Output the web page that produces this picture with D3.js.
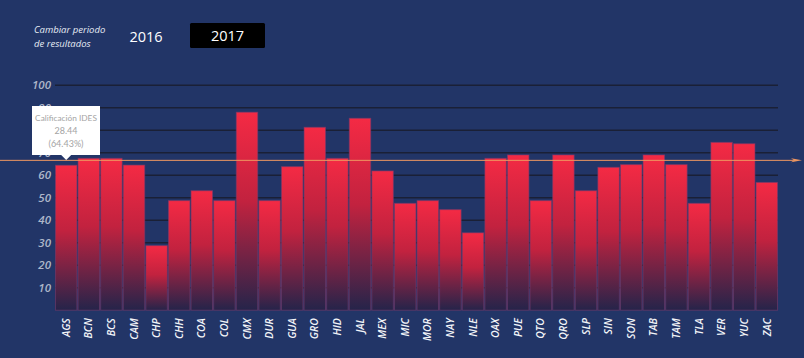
<!DOCTYPE html>
<html><head><meta charset="utf-8">
<script src="https://cdn.jsdelivr.net/npm/d3@7"></script>
<style>
html,body{margin:0;padding:0;background:#223567;}
svg{display:block;font-family:"Open Sans",sans-serif;}
</style></head>
<body>
<svg id="chart" width="804" height="358"></svg>
<script>
const categories = ["AGS","BCN","BCS","CAM","CHP","CHH","COA","COL","CMX","DUR","GUA","GRO","HID","JAL","MEX","MIC","MOR","NAY","NLE","OAX","PUE","QTO","QRO","SLP","SIN","SON","TAB","TAM","TLA","VER","YUC","ZAC"];
const values = [64.43,67.5,67.5,64.5,28.7,48.7,53.1,48.7,88.0,48.7,63.8,81.3,67.5,85.3,61.9,47.5,48.7,44.7,34.4,67.5,69.0,48.7,69.0,53.1,63.5,64.7,69.0,64.7,47.5,74.6,74.0,56.8];
const yTicks = [10,20,30,40,50,60,70,80,90,100];
const average = 66.6;
const years = ["2016","2017"];
const tooltip = {label:"Calificación IDES", score:"28.44", pct:"(64.43%)", index:0};

const svg = d3.select("#chart");
const margin = {left:55, right:26, top:85.2, bottom:48};
const W = 804, H = 358;
const x = d3.scaleBand().domain(categories).range([margin.left, W - margin.right]).paddingInner(0.05).paddingOuter(0.02);
const y = d3.scaleLinear().domain([0,100]).range([310.2, 85.2]);

const defs = svg.append("defs");
const g = defs.append("linearGradient").attr("id","barGrad").attr("x1",0).attr("y1",0).attr("x2",0).attr("y2",1);
g.append("stop").attr("offset","0%").attr("stop-color","#f42a44");
g.append("stop").attr("offset","45%").attr("stop-color","#c2223f");
g.append("stop").attr("offset","100%").attr("stop-color","#25244a");

// controls
const ctl = svg.append("g");
ctl.append("text").attr("x",34).attr("y",33).attr("fill","#e6ecf5").attr("font-size",9.5).attr("font-style","italic").text("Cambiar periodo");
ctl.append("text").attr("x",34).attr("y",47).attr("fill","#e6ecf5").attr("font-size",9.5).attr("font-style","italic").text("de resultados");
ctl.append("text").attr("x",146).attr("y",42).attr("text-anchor","middle").attr("fill","#ffffff").attr("font-size",14.5).text(years[0]);
ctl.append("rect").attr("x",190).attr("y",23).attr("width",75).attr("height",25).attr("rx",1.5).attr("fill","#000000");
ctl.append("text").attr("x",227.5).attr("y",41).attr("text-anchor","middle").attr("fill","#ffffff").attr("font-size",14.5).text(years[1]);

// gridlines
svg.append("g").selectAll("line").data(yTicks).join("line")
  .attr("x1",margin.left).attr("x2",W - margin.right)
  .attr("y1",d=>y(d)).attr("y2",d=>y(d))
  .attr("stroke","#1a2036").attr("stroke-width",1.5);

// y axis labels
const yAxis = d3.axisLeft(y).tickValues(yTicks).tickSize(0).tickPadding(0);
const ya = svg.append("g").attr("transform",`translate(51,0)`).call(yAxis);
ya.select(".domain").remove();
ya.selectAll("text").attr("fill","#aeb7c9").attr("font-size",11.5).attr("font-style","italic").attr("font-weight",600).attr("font-family","\"Open Sans\",sans-serif");

// bars
svg.append("g").selectAll("rect").data(values).join("rect")
  .attr("x",(d,i)=>x(categories[i]))
  .attr("width",x.bandwidth())
  .attr("y",d=>y(d))
  .attr("height",d=>y(0)-y(d))
  .attr("fill","url(#barGrad)")
  .attr("stroke","#7a3a6a").attr("stroke-opacity",0.6).attr("stroke-width",1);

// x axis labels
const xAxis = d3.axisBottom(x).tickSize(0).tickPadding(0);
const xa = svg.append("g").attr("transform",`translate(0,${y(0)})`).call(xAxis);
xa.select(".domain").remove();
xa.selectAll("text")
  .attr("transform","rotate(-90)")
  .attr("text-anchor","end").attr("dx","-8").attr("dy","0.35em").attr("y",0).attr("x",0)
  .attr("fill","#f2f4f8").attr("font-size",10.5).attr("font-style","italic").attr("font-weight",600).attr("font-family","\"Open Sans\",sans-serif");

// average line
svg.append("line").attr("x1",0).attr("x2",795).attr("y1",y(average)).attr("y2",y(average))
  .attr("stroke","#ef9660").attr("stroke-width",1);
svg.append("path")
  .attr("d",`M791,${y(average)-2} L802,${y(average)} L791,${y(average)+2} L794,${y(average)} Z`)
  .attr("fill","#ef9660");

// tooltip
const tx = x(categories[tooltip.index]) + x.bandwidth()/2;
const tipG = svg.append("g");
const bx = 32, bw = 68, by = 106, bh = 49;
tipG.append("path")
  .attr("d",`M${bx},${by} h${bw} v${bh} H${tx+5} L${tx},${bh+by+5} L${tx-5},${bh+by} H${bx} Z`)
  .attr("fill","#ffffff");
const tt = [tooltip.label, tooltip.score, tooltip.pct];
tipG.selectAll("text").data(tt).join("text")
  .attr("x",bx+bw/2).attr("y",(d,i)=>120.5+i*13)
  .attr("text-anchor","middle").attr("fill","#a4a4a4")
  .attr("font-size",(d,i)=>i===0?8.3:9)
  .attr("font-family","Lato,sans-serif")
  .text(d=>d);
</script>
</body></html>
